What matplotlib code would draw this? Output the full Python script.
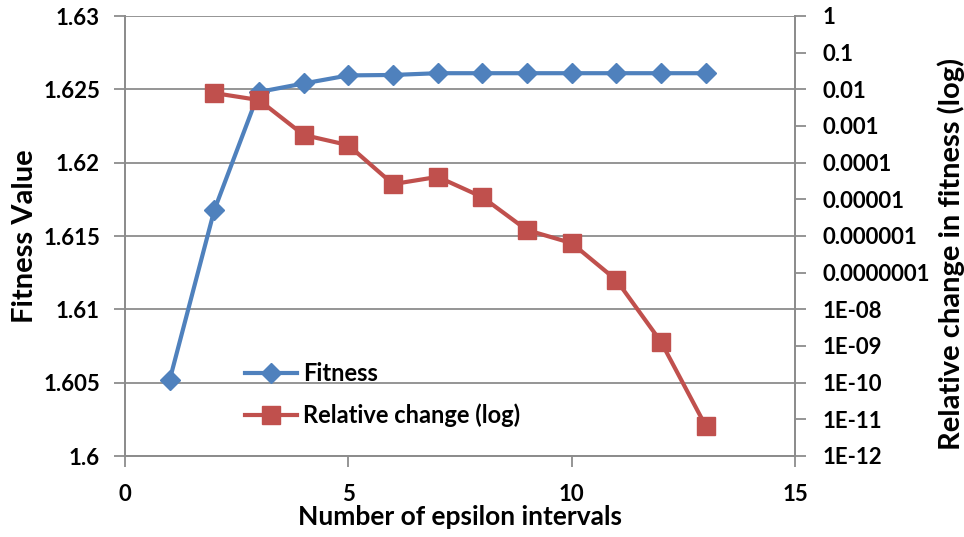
import numpy as np
from matplotlib import pyplot as plt
from matplotlib.ticker import FixedLocator, FixedFormatter

# data
intervals = [1, 2, 3, 4, 5, 6, 7, 8, 9, 10, 11, 12, 13]
fitness = [1.60518, 1.61677, 1.62482, 1.6254, 1.62595, 1.62598, 1.6261,
           1.6261, 1.6261, 1.6261, 1.6261, 1.6261, 1.6261]
change_x = [2, 3, 4, 5, 6, 7, 8, 9, 10, 11, 12, 13]
rel_change = [7.9e-3, 5.1e-3, 5.7e-4, 3.0e-4, 2.6e-5, 4.1e-5, 1.15e-5,
              1.45e-6, 6.4e-7, 6.3e-8, 1.3e-9, 6.6e-12]
right_ticks = [10.0 ** -k for k in range(0, 13)]
right_labels = ['1', '0.1', '0.01', '0.001', '0.0001', '0.00001', '0.000001',
                '0.0000001', '1E-08', '1E-09', '1E-10', '1E-11', '1E-12']

blue = '#4F81BD'
red = '#C0504D'
grey = '#8C8C8C'

plt.rcParams['font.family'] = ['Lato', 'DejaVu Sans']
plt.rcParams['font.weight'] = 'bold'

fig = plt.figure(figsize=(9.64, 5.37), dpi=100)
ax = fig.add_axes([125 / 964, 1 - 456 / 537, 670 / 964, 440 / 537])
ax2 = ax.twinx()

ax.set_xlim(0, 15)
ax.set_ylim(1.6, 1.63)
ax.set_xticks([0, 5, 10, 15])
ax.set_yticks(np.arange(1.6, 1.6301, 0.005))
ax.set_yticklabels(['1.6', '1.605', '1.61', '1.615', '1.62', '1.625', '1.63'])
ax.grid(axis='y', color=grey, linewidth=1.3)
ax.set_axisbelow(True)

ax2.set_yscale('log')
ax2.set_ylim(1e-12, 1)
ax2.yaxis.set_major_locator(FixedLocator(right_ticks))
ax2.yaxis.set_major_formatter(FixedFormatter(right_labels))
ax2.yaxis.set_minor_locator(FixedLocator([]))

for a in (ax, ax2):
    a.spines['top'].set_visible(False)
    for s in ('left', 'right', 'bottom'):
        a.spines[s].set_color(grey)
        a.spines[s].set_linewidth(1.3)
    a.tick_params(axis='both', direction='out', length=8, width=1.3,
                  color=grey, labelsize=16, labelcolor='black')
ax.tick_params(axis='y', pad=10)
ax.tick_params(axis='x', pad=12)
ax2.tick_params(axis='y', pad=12)

ax.plot(intervals, fitness, color=blue, linewidth=3, marker='D',
        markersize=10, label='Fitness', zorder=3)
ax2.plot(change_x, rel_change, color=red, linewidth=3, marker='s',
         markersize=13, label='Relative change (log)', zorder=3)

h1, l1 = ax.get_legend_handles_labels()
h2, l2 = ax2.get_legend_handles_labels()
leg = ax2.legend(h1 + h2, l1 + l2, loc='upper left',
                 bbox_to_anchor=(0.148, 0.262), frameon=False,
                 fontsize=17, labelspacing=0.8, handlelength=2.2,
                 handletextpad=0.25)

ax.set_xlabel('Number of epsilon intervals', fontsize=19, fontweight='bold', labelpad=0)
ax.set_ylabel('Fitness Value', fontsize=21, fontweight='bold', labelpad=4)
ax2.set_ylabel('Relative change in fitness (log)', fontsize=21,
               fontweight='bold')
ax2.yaxis.set_label_coords(1.213, 0.459)

fig.savefig('out.png', dpi=100)
